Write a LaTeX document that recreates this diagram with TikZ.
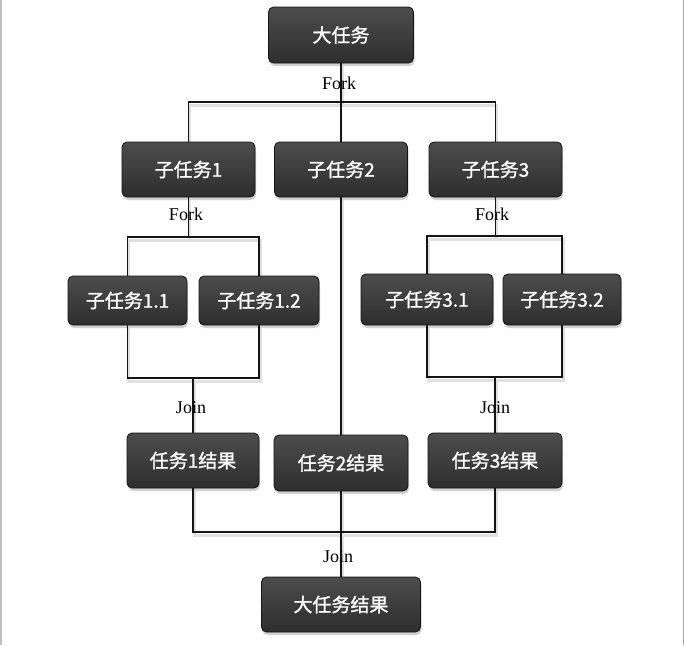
\documentclass[tikz,border=0pt]{standalone}
\usepackage{fontspec}
\setmainfont{Liberation Serif}
\newfontfamily\cjk[FakeBold=1.2]{Noto Sans CJK SC}
\usetikzlibrary{shadows}
\begin{document}
\begin{tikzpicture}[x=1pt,y=-1pt,
  taskbox/.style={rounded corners=5pt, draw=black!92, line width=0.8pt,
    top color=black!70, bottom color=black!82, text=white,
    font=\cjk\fontsize{19}{21}\selectfont, inner sep=0pt,
    drop shadow={shadow xshift=1pt, shadow yshift=-3pt, opacity=0.3, fill=black!60}},
  lbl/.style={font=\fontsize{18}{20}\selectfont, inner sep=0pt},
  conn/.style={line width=1.8pt, black!92},
  connshadow/.style={line width=3pt, black!12, transform canvas={xshift=1pt, yshift=-3pt}}]
\useasboundingbox (0,0) rectangle (685,645);
\fill[white] (0,0) rectangle (685,645);
\draw[black!25, line width=1.5pt] (0.75,0) -- (0.75,645);
\draw[black!35, line width=1.5pt] (683.5,0) -- (683.5,645);

% junction coordinates
\coordinate (j0) at (341,102);
\coordinate (j1) at (188.5,237);
\coordinate (j3) at (495.5,236);
\coordinate (k1) at (193,378);
\coordinate (k3) at (495,377);
\coordinate (k0) at (341,532);

% connector shadows
\draw[connshadow] (341,63) -- (j0);
\draw[connshadow] (188.5,142) |- (j0) -| (495.5,142);
\draw[connshadow] (188.5,197) -- (j1);
\draw[connshadow] (127.5,276) |- (j1) -| (259,276);
\draw[connshadow] (495.5,197) -- (j3);
\draw[connshadow] (427,276) |- (j3) -| (562,276);
\draw[connshadow] (127.5,325) |- (k1) -| (259,325);
\draw[connshadow] (193,378) -- (193,433);
\draw[connshadow] (427,325) |- (k3) -| (562,325);
\draw[connshadow] (495,377) -- (495,433);
\draw[connshadow] (341,197) -- (341,435);
\draw[connshadow] (193,488) |- (k0) -| (495,488);
\draw[connshadow] (341,491) -- (341,577);

% nodes
\node[taskbox, minimum width=145pt, minimum height=56pt] (big) at (341,35) {大任务};
\node[taskbox, minimum width=133pt, minimum height=55pt] (s1) at (188.5,169.5) {子任务1};
\node[taskbox, minimum width=133pt, minimum height=55pt] (s2) at (341,169.5) {子任务2};
\node[taskbox, minimum width=133pt, minimum height=55pt] (s3) at (495.5,169.5) {子任务3};
\node[taskbox, minimum width=119pt, minimum height=49pt] (s11) at (127.5,300.5) {子任务1.1};
\node[taskbox, minimum width=120pt, minimum height=49pt] (s12) at (259,300.5) {子任务1.2};
\node[taskbox, minimum width=132pt, minimum height=51pt] (s31) at (427,299.5) {子任务3.1};
\node[taskbox, minimum width=118pt, minimum height=51pt] (s32) at (562,299.5) {子任务3.2};
\node[taskbox, minimum width=132pt, minimum height=55pt] (r1) at (193,460.5) {任务1结果};
\node[taskbox, minimum width=134pt, minimum height=56pt] (r2) at (341,463) {任务2结果};
\node[taskbox, minimum width=134pt, minimum height=55pt] (r3) at (495,460.5) {任务3结果};
\node[taskbox, minimum width=159pt, minimum height=55pt] (final) at (341,604.5) {大任务结果};

% connectors
\draw[conn] (big.south) -- (j0);
\draw[conn] (s1.north) |- (j0) -| (s3.north);
\draw[conn] (j0) -- (s2.north);
\draw[conn] (s1.south) -- (j1);
\draw[conn] (s11.north) |- (j1) -| (s12.north);
\draw[conn] (s3.south) -- (j3);
\draw[conn] (s31.north) |- (j3) -| (s32.north);
\draw[conn] (s11.south) |- (k1) -| (s12.south);
\draw[conn] (k1) -- (r1.north);
\draw[conn] (s31.south) |- (k3) -| (s32.south);
\draw[conn] (k3) -- (r3.north);
\draw[conn] (s2.south) -- (r2.north);
\draw[conn] (r1.south) |- (k0) -| (r3.south);
\draw[conn] (r2.south) -- (final.north);

% labels
\node[lbl] (f0) at (339,83) {Fork};
\node[lbl] (f1) at (186,214) {Fork};
\node[lbl] (f3) at (492,214) {Fork};
\node[lbl] (jn1) at (191,408) {Join};
\node[lbl] (jn3) at (495,408) {Join};
\node[lbl] (jn0) at (338,557) {Join};
\end{tikzpicture}
\end{document}
